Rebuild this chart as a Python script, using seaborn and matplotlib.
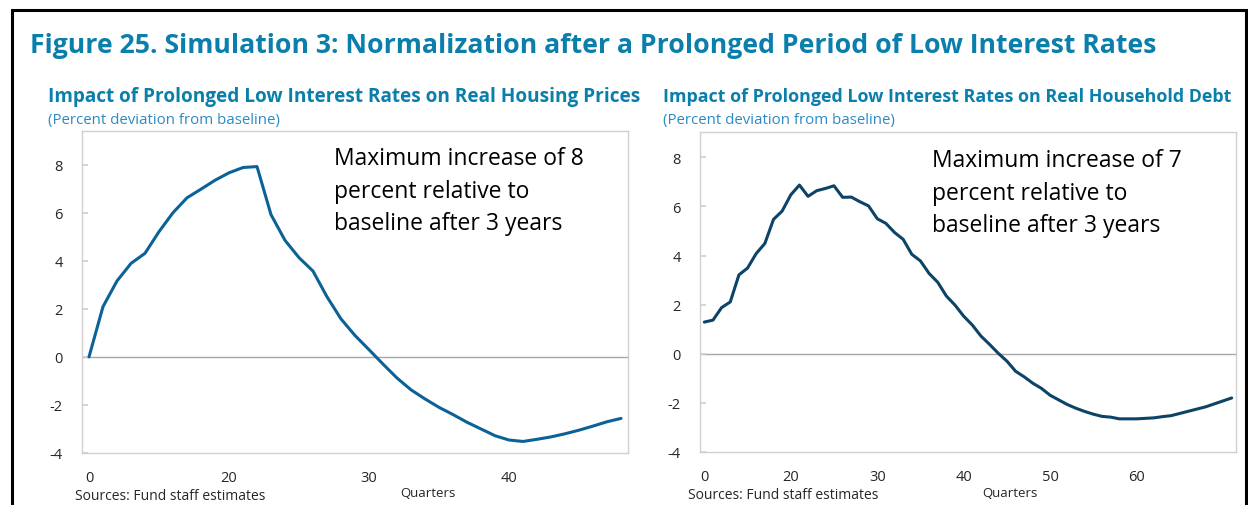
"""Figure 25: simulation 3, two panels of impulse responses."""
import numpy as np
import pandas as pd
import matplotlib
matplotlib.use('Agg')
import matplotlib.pyplot as plt
import seaborn as sns
from matplotlib.patches import Rectangle

sns.set_theme(style='white')
plt.rcParams['font.family'] = ['Open Sans', 'DejaVu Sans']
plt.rcParams['axes.unicode_minus'] = False

# left panel: real housing prices, percent deviation from baseline
housing = [0.0, 2.09, 3.16, 3.89, 4.31, 5.21, 6.0, 6.62, 6.98, 7.35,
           7.66, 7.88, 7.92, 5.92, 4.85, 4.13, 3.57, 2.5, 1.58, 0.89,
           0.3, -0.3, -0.88, -1.37, -1.75, -2.1, -2.4, -2.72, -3.0, -3.28,
           -3.46, -3.52, -3.43, -3.33, -3.2, -3.05, -2.88, -2.7, -2.56]
# right panel: real household debt
debt = [1.29, 1.37, 1.88, 2.11, 3.21, 3.49, 4.08, 4.49, 5.47, 5.81,
        6.47, 6.87, 6.41, 6.64, 6.73, 6.84, 6.37, 6.38, 6.19, 6.02,
        5.5, 5.31, 4.94, 4.66, 4.05, 3.78, 3.27, 2.91, 2.35, 1.98,
        1.53, 1.17, 0.72, 0.38, 0.02, -0.3, -0.71, -0.94, -1.2, -1.41,
        -1.69, -1.88, -2.07, -2.22, -2.35, -2.46, -2.55, -2.58, -2.65, -2.65,
        -2.65, -2.63, -2.61, -2.56, -2.52, -2.43, -2.34, -2.25, -2.16, -2.04,
        -1.92, -1.8]

housing_ticks = ['0', '20', '30', '40']
debt_ticks = ['0', '20', '30', '40', '50', '60']
y_ticks = [-4, -2, 0, 2, 4, 6, 8]

TITLE_C = '#0b7fab'
SUB_C = '#2b8ac4'
W, H = 1248, 506


def px_axes(fig, x0, y0, x1, y1):
    return fig.add_axes([x0 / W, 1 - y1 / H, (x1 - x0) / W, (y1 - y0) / H])


def panel(ax, values, labels, color, ylim):
    df = pd.DataFrame({'q': np.arange(len(values)), 'v': values})
    sns.lineplot(data=df, x='q', y='v', ax=ax, color=color, linewidth=2.2)
    ax.axhline(0, color='#a6a6a6', linewidth=1, zorder=0)
    ax.set_xlim(-0.5, len(values) - 0.5)
    ax.set_ylim(*ylim)
    ax.set_xticks(np.arange(len(labels)) * 10)
    ax.set_xticklabels(labels)
    ax.set_yticks(y_ticks)
    ax.set_xlabel('')
    ax.set_ylabel('')
    for s in ax.spines.values():
        s.set_color('#d0d0d0')
        s.set_linewidth(1)
    ax.tick_params(axis='y', direction='in', length=4, color='#d0d0d0',
                   labelsize=10.5, pad=14, left=True)
    ax.tick_params(axis='x', length=0, labelsize=10.5, pad=12)


fig = plt.figure(figsize=(W / 100, H / 100), dpi=100)

ax1 = px_axes(fig, 82, 132, 628, 454)
panel(ax1, housing, housing_ticks, '#0a6296', (-4, 9.4))
ax2 = px_axes(fig, 700, 133, 1236, 453)
panel(ax2, debt, debt_ticks, '#0c4468', (-4, 9.03))

# frame around the figure (bottom is cut off)
fig.patches.append(Rectangle((12 / W, -0.1), (1246 - 12) / W, 1.1 - 11 / H,
                             transform=fig.transFigure, fill=False,
                             edgecolor='black', linewidth=2.2))

fig.text(30 / W, 1 - 46 / H,
         'Figure 25. Simulation 3: Normalization after a Prolonged Period of Low Interest Rates',
         color=TITLE_C, fontsize=19.2, fontweight='bold', va='center')
fig.text(48 / W, 1 - 97 / H,
         'Impact of Prolonged Low Interest Rates on Real Housing Prices',
         color=TITLE_C, fontsize=13.7, fontweight='bold', va='center')
fig.text(663 / W, 1 - 97 / H,
         'Impact of Prolonged Low Interest Rates on Real Household Debt',
         color=TITLE_C, fontsize=12.9, fontweight='bold', va='center')
fig.text(48 / W, 1 - 121 / H, '(Percent deviation from baseline)',
         color=SUB_C, fontsize=10.8, va='center')
fig.text(663 / W, 1 - 121 / H, '(Percent deviation from baseline)',
         color=SUB_C, fontsize=10.8, va='center')

note = 'Maximum increase of {}\npercent relative to\nbaseline after 3 years'
fig.text(334 / W, 1 - 147 / H, note.format(8), fontsize=16.5, va='top',
         linespacing=1.48, color='black')
fig.text(932 / W, 1 - 149 / H, note.format(7), fontsize=16.5, va='top',
         linespacing=1.48, color='black')

fig.text(428 / W, 1 - 494 / H, 'Quarters', fontsize=9.5, ha='center', va='center')
fig.text(1010 / W, 1 - 494 / H, 'Quarters', fontsize=9.5, ha='center', va='center')
fig.text(75 / W, 1 - 497 / H, 'Sources: Fund staff estimates', fontsize=10, va='center')
fig.text(688 / W, 1 - 496 / H, 'Sources: Fund staff estimates', fontsize=10, va='center')

fig.savefig('out.png', dpi=100)
